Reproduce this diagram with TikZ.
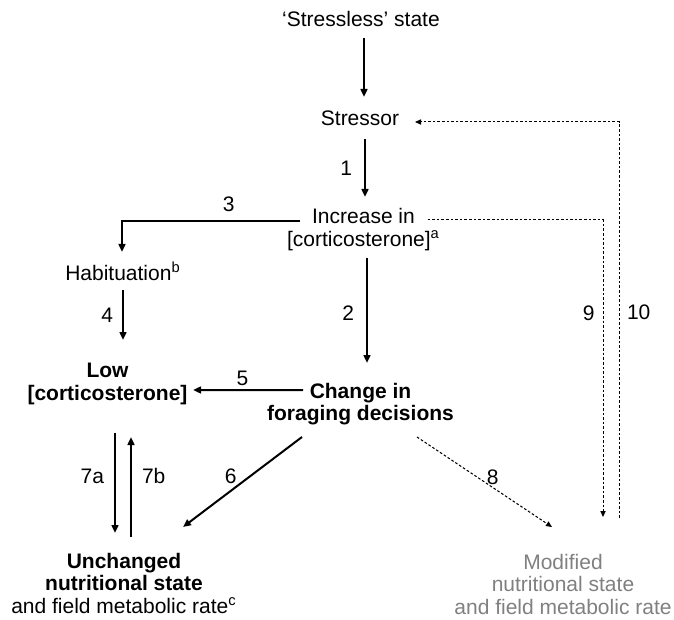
\documentclass[tikz,border=0pt]{standalone}
\usepackage{fontspec}
\setmainfont{Liberation Sans}
\usepackage{xcolor}
\usetikzlibrary{arrows.meta,calc}

\begin{document}
\begin{tikzpicture}[x=0.5pt,y=-0.5pt,
	every node/.style={inner sep=0pt, align=center, font=\fontsize{10.5}{11.2}\selectfont},
	flow/.style={line width=1pt, -{Triangle[length=4pt,width=3.4pt]}},
	weak/.style={line width=0.5pt, dash pattern=on 1.3pt off 1pt, -{Triangle[length=3pt,width=2.6pt]}},
	faded/.style={text=black!50}]
	\useasboundingbox (0,0) rectangle (674,620);
	% states
	\node[anchor=base] (stressless) at (361,27) {‘Stressless’ state};
	\node[anchor=base] (stressor) at (360,126) {Stressor};
	\node[anchor=north] (increase) at (363.5,208) {Increase in\\{}[corticosterone]\textsuperscript{a}};
	\node[anchor=base] (habit) at (123,280) {Habituation\textsuperscript{b}};
	\node[anchor=north] (low) at (107.5,363) {\bfseries Low\\\bfseries [corticosterone]};
	\node[anchor=north] (change) at (360.5,382.7) {\bfseries Change in\\\bfseries foraging decisions};
	\node[anchor=north] (unchanged) at (124,552.7) {\bfseries Unchanged\\\bfseries nutritional state\\and field metabolic rate\textsuperscript{c}};
	\node[anchor=north, faded] (modified) at (563,553.7) {Modified\\nutritional state\\and field metabolic rate};
	% solid pathways
	\draw[flow] ($(stressless.base)+(3,11)$) -- ($(stressor.base)+(4,-29)$);
	\draw[flow] ($(stressor.base)+(5,13)$) -- node[midway, left=6pt] {1} ($(increase.north)+(1.5,-11)$);
	\draw[flow] ($(increase.north)+(3.5,50)$) -- node[pos=0.53, left=6pt] {2} ($(change.north)+(6.5,-19.7)$);
	\draw[flow] ($(increase.north)+(-63.5,13)$) -| node[pos=0.2, above=4pt] {3} ($(habit.base)+(-1,-28)$);
	\draw[flow] ($(habit.base)+(0,10)$) -- node[midway, left=4.5pt] {4} ($(low.north)+(15.5,-23)$);
	\draw[flow] ($(change.north)+(-57.5,7.3)$) -- node[pos=0.55, above=1.75pt] {5} ($(low.north)+(85.5,27)$);
	\draw[flow] ($(change.north)+(-58.5,54.3)$) -- node[pos=0.6, above=3pt] {6} ($(unchanged.north)+(59,-25.7)$);
	\draw[flow] ($(low.north)+(7.5,70)$) -- node[pos=0.43, left=5pt] {7a} ($(unchanged.north)+(-9,-19.7)$);
	\draw[flow] ($(unchanged.north)+(7,-15.7)$) -- node[pos=0.61, right=5pt] {7b} ($(low.north)+(23.5,74)$);
	% dashed pathways
	\draw[weak] ($(change.north)+(56.5,54.3)$) -- node[pos=0.56, above=1pt] {8} ($(modified.north)+(-11,-26.7)$);
	\draw[weak] ($(increase.north)+(64,12)$) -| node[pos=0.657, left=4pt] {9} ($(modified.north)+(40,-36.7)$);
	\draw[weak] ($(modified.north)+(56,-35.7)$) |- node[pos=0.26, right=3.75pt] {10} ($(stressor.base)+(55,-4)$);
\end{tikzpicture}
\end{document}
